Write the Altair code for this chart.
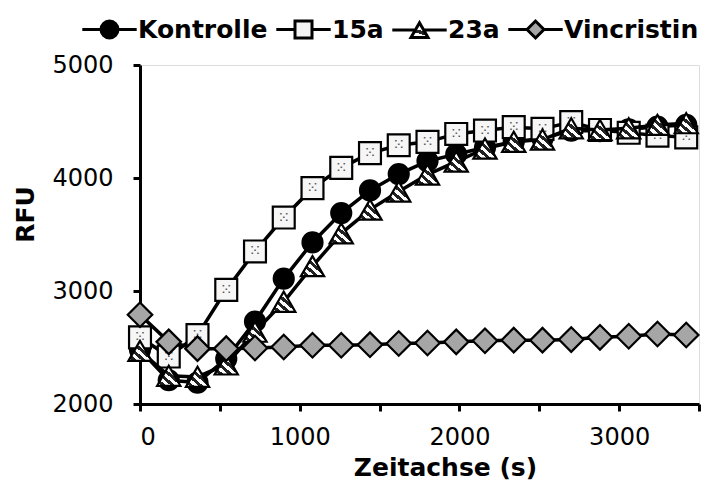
import altair as alt
import pandas as pd

# ---- data ----
times = [0, 180, 360, 540, 720, 900, 1080, 1260, 1440, 1620,
         1800, 1980, 2160, 2340, 2520, 2700, 2880, 3060, 3240, 3420]
kontrolle = [2480, 2210, 2190, 2400, 2730, 3110, 3430, 3690, 3890, 4035,
             4150, 4210, 4270, 4320, 4350, 4420, 4415, 4430, 4455, 4470]
s15a = [2590, 2420, 2610, 3010, 3350, 3650, 3910, 4090, 4220, 4290,
        4320, 4390, 4420, 4450, 4435, 4495, 4425, 4400, 4375, 4360]
s23a = [2470, 2250, 2240, 2350, 2640, 2905, 3220, 3510, 3720, 3880,
        4030, 4145, 4260, 4320, 4340, 4440, 4425, 4440, 4470, 4485]
vincristin = [2790, 2550, 2490, 2490, 2495, 2505, 2520, 2520, 2525, 2535,
              2540, 2550, 2560, 2565, 2565, 2570, 2590, 2600, 2620, 2610]
series_names = ["Kontrolle", "15a", "23a", "Vincristin"]
x_ticks = [0, 500, 1000, 1500, 2000, 2500, 3000, 3500]
y_ticks = [2000, 3000, 4000, 5000]

rows = []
for name, vals in zip(series_names, [kontrolle, s15a, s23a, vincristin]):
    for t, v in zip(times, vals):
        rows.append({"t": t, "rfu": v, "series": name})
df = pd.DataFrame(rows)

FONT = "DejaVu Sans"

# striped fill for the triangles
def stripe_stop_list(n_bands):
    out = []
    for k in range(n_bands):
        col = "#222222" if k % 2 else "#ffffff"
        out.append({"offset": k / n_bands, "color": col})
        out.append({"offset": (k + 1) / n_bands, "color": col})
    return out

stripe_stops = stripe_stop_list(10)
stripes = {"gradient": "linear", "x1": 0, "y1": 1, "x2": 1, "y2": 0,
           "stops": stripe_stops}
legend_stripe_expr = (
    "{gradient: 'linear', x1: 0, y1: 1, x2: 1, y2: 0, stops: ["
    + ", ".join("{offset: %g, color: '%s'}" % (s["offset"], s["color"])
                for s in stripe_stop_list(8))
    + "]}"
)

x_enc = alt.X(
    "t:Q",
    scale=alt.Scale(domain=[0, 3500], nice=False, zero=False),
    axis=alt.Axis(
        title="Zeitachse (s)", values=x_ticks, format="d",
        labelExpr="datum.value % 1000 == 0 ? datum.label : ''",
        grid=False, domainColor="black", domainWidth=3,
        tickColor="black", tickWidth=3, tickSize=7,
        labelFont=FONT, labelFontSize=24, labelColor="black", labelPadding=14,
        titleFont=FONT, titleFontSize=25, titleFontWeight="bold",
        titleColor="black", titleX=305, titleY=71,
        titleAlign="center", titleBaseline="alphabetic",
    ),
)
y_enc = alt.Y(
    "rfu:Q",
    scale=alt.Scale(domain=[2000, 5000], nice=False, zero=False),
    axis=alt.Axis(
        title="RFU", values=y_ticks, format="d",
        grid=False, domainColor="black", domainWidth=3,
        tickColor="black", tickWidth=3, tickSize=7,
        labelFont=FONT, labelFontSize=24, labelColor="black", labelPadding=20,
        titleFont=FONT, titleFontSize=25, titleFontWeight="bold",
        titleColor="black", titleX=-115, titleY=149, titleAngle=270,
        titleAlign="center", titleBaseline="middle",
    ),
)

base = alt.Chart(df).encode(x=x_enc, y=y_enc)

legend_paths = [
    "M-3.2,0L-1,0M1,0L3.2,0M1,0A1,1,0,1,1,-1,0A1,1,0,1,1,1,0Z",
    "M-3.2,0L-1,0M1,0L3.2,0M-1,-1L1,-1L1,1L-1,1Z",
    "M-3.2,0L-0.5,0M0.5,0L3.2,0M0,-0.866L1,0.866L-1,0.866Z",
    "M-3.2,0L-1,0M1,0L3.2,0M-1,0L0,-1L1,0L0,1Z",
]
legend_fills = ["black", "#f4f4f4", {"expr": legend_stripe_expr}, "#a6a6a6"]
leg = alt.Legend(
    title=None, orient="none", direction="horizontal", columns=4,
    legendX=-57, legendY=-48,
    symbolSize=289, symbolStrokeColor="black", symbolStrokeWidth=3,
    symbolOffset=14, labelOffset=16, columnPadding=2, padding=0,
    labelFont=FONT, labelFontSize=25, labelFontWeight="bold",
    labelColor="black", labelLimit=300,
)
legend_layer = base.mark_point(filled=False, color="black", size=1,
                               strokeWidth=1, opacity=1).encode(
    shape=alt.Shape("series:N", sort=series_names,
                    scale=alt.Scale(domain=series_names, range=legend_paths),
                    legend=leg),
    fill=alt.Fill("series:N", sort=series_names,
                  scale=alt.Scale(domain=series_names, range=legend_fills),
                  legend=leg),
    stroke=alt.Stroke("series:N", sort=series_names,
                      scale=alt.Scale(domain=series_names,
                                      range=["black"] * 4),
                      legend=leg),
)

layers = [legend_layer]
styles = {
    "Kontrolle": dict(shape="circle", fill="black", size=400),
    "15a": dict(shape="square", fill="#f6f6f6", size=480),
    "23a": dict(shape="triangle-up", fill=stripes, size=540),
    "Vincristin": dict(shape="diamond", fill="#a6a6a6", size=600),
}
for name in series_names:
    sub = base.transform_filter(alt.datum.series == name)
    layers.append(sub.mark_line(color="black", strokeWidth=3.5))
    st = styles[name]
    layers.append(sub.mark_point(shape=st["shape"], filled=True, fill=st["fill"],
                                 stroke="black", strokeWidth=2.2,
                                 size=st["size"], opacity=1))
    if name == "15a":
        layers.append(sub.mark_text(text="\u2059", fontSize=15, color="#555555",
                                    font="DejaVu Sans", baseline="middle",
                                    align="center"))

chart = alt.layer(*layers).resolve_scale(
    shape="independent", fill="independent", stroke="independent"
).properties(
    width=559, height=339,
    autosize=alt.AutoSizeParams(type="none"),
    padding={"left": 140, "top": 65, "right": 20, "bottom": 82},
).configure_view(stroke=None).configure(background="white")

chart.save("out.html", embed_options={"renderer": "svg", "actions": False})
